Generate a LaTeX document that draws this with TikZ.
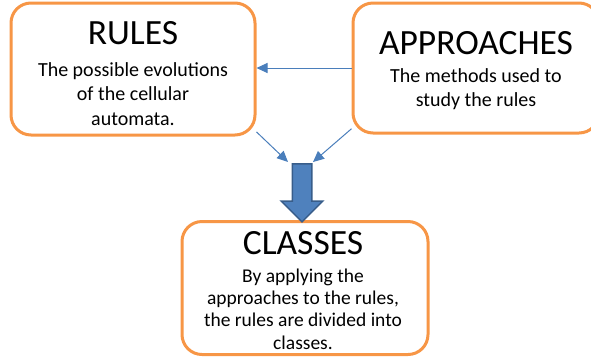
\documentclass[tikz,border=0pt]{standalone}
\usepackage{fontspec}
\setmainfont{Carlito}
\usetikzlibrary{arrows.meta,shapes.arrows}

\definecolor{boxorange}{HTML}{F79646}
\definecolor{linkblue}{HTML}{4A7EBB}
\definecolor{bigblue}{HTML}{4F81BD}
\definecolor{bigblueedge}{HTML}{385D8A}

\tikzset{
  box/.style      = {shape=rectangle, rounded corners=20pt, draw=boxorange,
                     line width=3pt, fill=white},
  title/.style    = {font=\fontsize{35.5}{40}\selectfont},
  body/.style     = {align=center, font=\fontsize{20}{24.5}\selectfont},
  link/.style     = {draw=linkblue, line width=1pt,
                     -{Triangle[length=11pt,width=10pt]}},
  bigarrow/.style = {single arrow, draw=bigblueedge, fill=bigblue,
                     line width=1.5pt, shape border rotate=270,
                     inner sep=9pt, minimum height=58pt,
                     single arrow head extend=11pt}
}

\begin{document}
\begin{tikzpicture}[x=1pt, y=-1pt]
\clip (0,0) rectangle (591,360);
\useasboundingbox (0,0) rectangle (591,360);

% the three boxes
\node[box, minimum width=244pt, minimum height=132pt] (rules) at (133,69) {};
\node[box, minimum width=246pt, minimum height=130pt] (approaches) at (476,68) {};
\node[box, minimum width=246pt, minimum height=133pt] (classes) at (305,288) {};

% titles and descriptions
\node[title] (rules title) at (133,33) {RULES};
\node[body] (rules text) at (133,94) {The possible evolutions\\of the cellular\\automata.};
\node[title] (approaches title) at (476,43) {APPROACHES};
\node[body] (approaches text) at (476,89) {The methods used to\\study the rules};
\node[title] (classes title) at (303,243) {CLASSES};
\node[body, font=\fontsize{19.5}{22.3}\selectfont] (classes text) at (303,309)
  {By applying the\\approaches to the rules,\\the rules are divided into\\classes.};

% block arrow down to the classes
\node[bigarrow] (down) at (302,188) {};

% thin links
\coordinate (into left) at (288,162);
\coordinate (into right) at (313,162);
\draw[link] (approaches.west |- 0,68) -- (rules.east |- 0,68);
\draw[link] (rules.-27) -- (into left);
\draw[link] (approaches.206) -- (into right);
\end{tikzpicture}
\end{document}
